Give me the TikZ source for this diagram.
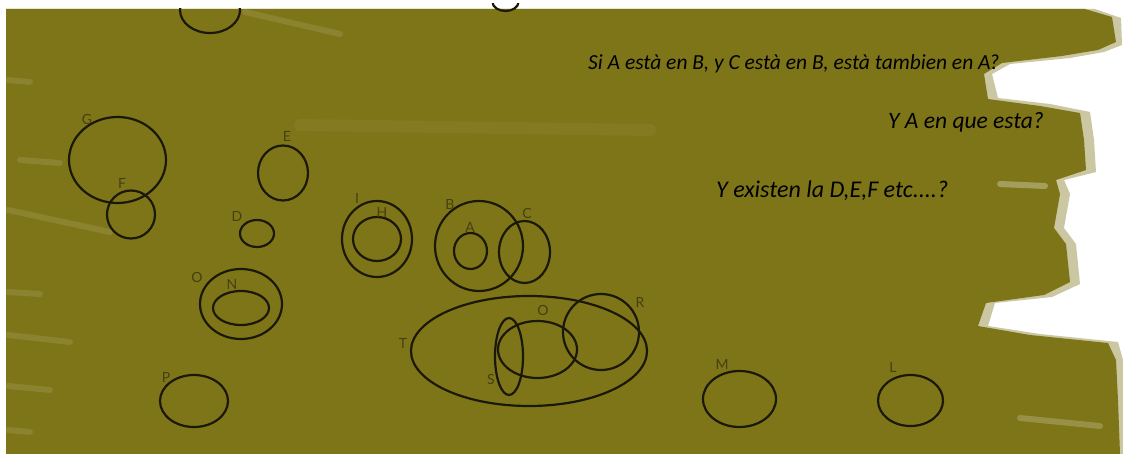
\documentclass[tikz,border=0pt]{standalone}
\usepackage{fontspec}
\usepackage{xcolor}
\usepackage{tikz}
\usetikzlibrary{shapes.geometric}
\newfontfamily\notefont{Carlito}
\newfontfamily\tagfont{Lato}
\definecolor{boardolive}{RGB}{126,117,24}
\definecolor{tagink}{RGB}{70,64,16}
\definecolor{setink}{RGB}{28,24,8}

\begin{document}
\begin{tikzpicture}[
  x=1pt, y=-1pt,
  set/.style={ellipse, draw=setink, line width=2.2pt, inner sep=0pt},
  tag/.style={font=\tagfont\fontsize{14}{16}\selectfont, text=tagink, inner sep=0pt},
  note/.style={text=black, inner sep=0pt, anchor=base west},
  streak/.style={white, opacity=0.1, line width=6pt, line cap=round}
]
  \useasboundingbox (0,0) rectangle (1123,454);
  \fill[white] (0,0) rectangle (1123,454);

  % brushed board
  \fill[boardolive, opacity=0.4] (6,9) -- (1095,9) -- (1121,18) -- (1122,45) -- (1104,52) -- (1070,58) -- (1010,64) -- (992,74) -- (998,98) -- (1050,104) -- (1090,112) -- (1094,140) -- (1096,172) -- (1064,180) -- (1070,194) -- (1064,228) -- (1076,244) -- (1080,284) -- (1052,297) -- (995,303) -- (988,326) -- (1040,334) -- (1118,342) -- (1123,360) -- (1123,454) -- (6,454) -- cycle;
  \fill[boardolive] (6,9) -- (1085,9) -- (1112,17) -- (1116,42) -- (1098,50) -- (1062,56) -- (1002,63) -- (984,74) -- (988,99) -- (1040,106) -- (1080,113) -- (1084,140) -- (1086,170) -- (1056,180) -- (1060,194) -- (1054,228) -- (1066,244) -- (1070,282) -- (1044,295) -- (986,303) -- (978,326) -- (1030,335) -- (1108,343) -- (1116,360) -- (1118,400) -- (1120,454) -- (6,454) -- cycle;

  % light streaks
  \draw[streak] (8,80) -- (30,82);
  \draw[streak] (20,160) -- (60,163);
  \draw[streak] (8,210) -- (110,232);
  \draw[streak] (8,292) -- (40,294);
  \draw[streak] (8,335) -- (70,342);
  \draw[streak] (8,386) -- (50,390);
  \draw[streak] (8,430) -- (30,432);
  \draw[streak] (245,12) -- (340,34);
  \draw[streak, line width=12pt, opacity=0.04] (300,125) -- (650,130);
  \draw[streak, opacity=0.3] (1000,184) -- (1045,186);
  \draw[streak, opacity=0.2] (1020,418) -- (1100,426);

  % sets cut by the top edge
  \begin{scope}
    \clip (0,9) rectangle (1123,454);
    \node[set, minimum width=60pt, minimum height=46pt] (top1) at (210,10) {};
  \end{scope}
  \begin{scope}
    \clip (0,4) rectangle (1123,454);
    \node[set, minimum width=26pt, minimum height=18pt] (top2) at (505.5,2) {};
  \end{scope}

  % sets
  \node[set, minimum width=97pt, minimum height=86pt] (G) at (117.5,160) {};
  \node[set, minimum width=48pt, minimum height=48pt] (F) at (131,214.5) {};
  \node[set, minimum width=50pt, minimum height=55pt] (E) at (283,173) {};
  \node[set, minimum width=34pt, minimum height=27pt] (D) at (257,233.5) {};
  \node[set, minimum width=70pt, minimum height=76pt] (I) at (377,239) {};
  \node[set, minimum width=48pt, minimum height=44pt] (H) at (377,239) {};
  \node[set, minimum width=88pt, minimum height=90pt] (B) at (479,246) {};
  \node[set, minimum width=33pt, minimum height=36pt] (A) at (470.5,251) {};
  \node[set, minimum width=51pt, minimum height=62pt] (C) at (524.5,252) {};
  \node[set, minimum width=82pt, minimum height=70pt] (O1) at (241,304) {};
  \node[set, minimum width=56pt, minimum height=34pt] (N) at (241,308) {};
  \node[set, minimum width=236pt, minimum height=110pt] (T) at (529,351) {};
  \node[set, minimum width=28pt, minimum height=77pt] (S) at (509,356.5) {};
  \node[set, minimum width=79pt, minimum height=57pt] (O2) at (537.5,349.5) {};
  \node[set, minimum width=76pt, minimum height=76pt] (R) at (601,332) {};
  \node[set, minimum width=68pt, minimum height=52pt] (P) at (194,401) {};
  \node[set, minimum width=73pt, minimum height=56pt] (M) at (739.5,399) {};
  \node[set, minimum width=65pt, minimum height=51pt] (L) at (910.5,400.5) {};

  % letters
  \node[tag] (tG) at (87,119) {G};
  \node[tag] (tF) at (122,183) {F};
  \node[tag] (tE) at (287,136) {E};
  \node[tag] (tD) at (237,216) {D};
  \node[tag] (tI) at (357,198) {I};
  \node[tag] (tH) at (382,212) {H};
  \node[tag] (tB) at (450,204) {B};
  \node[tag] (tA) at (470,227) {A};
  \node[tag] (tC) at (527,213) {C};
  \node[tag] (tO1) at (197,277) {O};
  \node[tag] (tN) at (232,284) {N};
  \node[tag] (tT) at (403,343) {T};
  \node[tag] (tS) at (491,379) {S};
  \node[tag] (tO2) at (543,310) {O};
  \node[tag] (tR) at (640,302) {R};
  \node[tag] (tP) at (166,377) {P};
  \node[tag] (tM) at (722,364) {M};
  \node[tag] (tL) at (893,367) {L};

  % questions
  \node[note, font=\notefont\itshape\fontsize{21.5}{24}\selectfont] (q1) at (588,70) {Si A està en B, y C està en B, està tambien en A?};
  \node[note, font=\notefont\itshape\fontsize{23.5}{26}\selectfont] (q2) at (888,129) {Y A en que esta?};
  \node[note, font=\notefont\itshape\fontsize{24}{27}\selectfont] (q3) at (716,198) {Y existen la D,E,F etc....?};
\end{tikzpicture}
\end{document}
